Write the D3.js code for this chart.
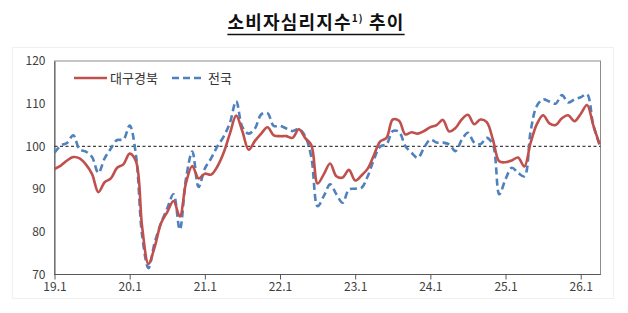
<!DOCTYPE html>
<html><head><meta charset="utf-8">
<script src="https://cdn.jsdelivr.net/npm/d3@7"></script>
<style>
html,body{margin:0;padding:0;background:#fff;}
svg{display:block;}
</style>
</head><body>
<svg id="chart" width="628" height="313"></svg>
<script>
// ---- data ----
const titleMain = "소비자심리지수";
const titleSup = "1)";
const titleTail = " 추이";
const seriesNames = ["대구경북", "전국"];
const startYear = 2019, monthCount = 88; // 2019.01 ~ 2026.04
const tickLabels = ["19.1","20.1","21.1","22.1","23.1","24.1","25.1","26.1"];
const yTicks = [70, 80, 90, 100, 110, 120];
const refLine = 100;

const daeguGyeongbuk = [
  94.7, 95.5, 96.7, 97.5, 97.2, 95.8, 93.5, 89.3, 91.6, 92.5, 95.0, 95.8,
  98.3, 96.5, 81.0, 72.5, 76.5, 82.0, 84.6, 87.2, 83.6, 91.5, 95.4, 92.5,
  93.6, 93.4, 95.3, 98.5, 103.0, 107.2, 103.5, 99.2, 101.3, 103.0, 104.5, 102.6,
  102.4, 102.4, 102.0, 104.0, 102.0, 100.3, 91.3, 93.5, 96.0, 93.0, 92.7, 94.5,
  92.0, 93.2, 94.8, 98.0, 101.2, 102.0, 106.3, 106.0, 102.8, 103.3, 103.0, 103.6,
  104.5, 105.0, 106.2, 103.5, 104.3, 106.3, 107.4, 105.2, 106.3, 105.7, 101.5, 96.5,
  96.3, 96.7, 97.4, 95.3, 100.8, 105.2, 107.3, 105.4, 105.0, 106.6, 107.3, 105.9,
  107.6, 109.7, 105.0, 100.5
];
const nationwide = [
  98.5, 100.2, 100.8, 102.6, 99.3, 98.8, 97.5, 93.8, 97.2, 99.5, 101.5, 101.6,
  104.9, 98.0, 79.0, 71.5, 77.5, 82.0, 85.5, 88.8, 80.5, 92.5, 98.8, 90.5,
  94.8, 97.2, 100.0, 102.3, 105.5, 110.6, 104.5, 103.0, 104.2, 107.5, 107.8, 104.8,
  104.8, 104.2, 103.6, 104.1, 102.4, 97.5, 86.0, 88.4, 91.1, 88.8, 86.8, 89.9,
  90.1, 90.3, 93.0, 97.0, 100.0, 100.5, 103.6, 103.4, 100.1, 98.5, 97.3, 99.7,
  101.6, 100.9, 100.9, 100.5, 98.9, 101.5, 103.2, 100.9, 100.5, 102.0, 100.3, 88.8,
  92.3, 95.0, 93.8, 93.0, 103.5, 109.5, 111.0, 110.5, 110.0, 112.0, 110.3, 111.0,
  111.5, 112.2, 105.0, 100.5
];
const seriesColors = ["#c0504d", "#4f81bd"];

// categories (month labels)
const categories = d3.range(monthCount).map(i => {
  const y = startYear + Math.floor(i / 12), m = (i % 12) + 1;
  return String(y).slice(2) + "." + m;
});

// ---- layout ----
const svg = d3.select("#chart");
const fontFam = "'Noto Sans CJK KR','Noto Sans',sans-serif";
const plot = {left: 54.5, right: 600.5, top: 61, bottom: 274.5};

// faint outer frame
svg.append("rect").attr("x", 12.5).attr("y", 47.5).attr("width", 601).attr("height", 251)
  .attr("fill", "none").attr("stroke", "#f0f0f0");

const x = d3.scaleLinear().domain([0, monthCount - 1]).range([plot.left, 599.5]);
const y = d3.scaleLinear().domain([70, 120]).range([plot.bottom, plot.top]);

// title
const title = svg.append("text").attr("x", 316).attr("y", 29)
  .attr("text-anchor", "middle").attr("font-family", fontFam)
  .attr("font-weight", "bold").attr("font-size", 18).attr("letter-spacing", 1.2)
  .attr("fill", "#111");
title.append("tspan").text(titleMain);
title.append("tspan").attr("font-size", 10).attr("dy", -7).text(titleSup);
title.append("tspan").attr("dy", 7).text(titleTail);
const tb = title.node().getBBox();
svg.append("line").attr("x1", tb.x).attr("x2", tb.x + tb.width)
  .attr("y1", 34.5).attr("y2", 34.5).attr("stroke", "#111").attr("stroke-width", 1.4);

// plot border
svg.append("rect").attr("x", plot.left).attr("y", plot.top)
  .attr("width", plot.right - plot.left).attr("height", plot.bottom - plot.top)
  .attr("fill", "none").attr("stroke", "#8c8c8c").attr("stroke-width", 1);

// y axis labels
const yAxis = d3.axisLeft(y).tickValues(yTicks).tickSize(0).tickPadding(9);
const gy = svg.append("g").attr("transform", `translate(${plot.left},0)`).call(yAxis);
gy.select(".domain").attr("stroke", "#595959");
gy.selectAll("text").attr("font-family", fontFam).attr("font-size", 12).attr("fill", "#404040");

// x axis
const tickIdx = tickLabels.map(l => categories.indexOf(l));
const xAxis = d3.axisBottom(x).tickValues(tickIdx)
  .tickFormat(i => categories[i]).tickSize(5).tickSizeOuter(0).tickPadding(3);
const gx = svg.append("g").attr("transform", `translate(0,${plot.bottom})`).call(xAxis);
gx.select(".domain").attr("stroke", "#595959").attr("d", `M${plot.left},0H${plot.right}`);
gx.selectAll(".tick line").attr("stroke", "#595959");
gx.selectAll("text").attr("font-family", fontFam).attr("font-size", 12).attr("fill", "#404040");

// reference dotted line at 100
svg.append("line").attr("x1", plot.left).attr("x2", plot.right)
  .attr("y1", y(refLine)).attr("y2", y(refLine))
  .attr("stroke", "#404040").attr("stroke-width", 1.2).attr("stroke-dasharray", "3,2.5");

// lines
const line = d3.line().x((d, i) => x(i)).y(d => y(d)).curve(d3.curveCatmullRom.alpha(0.5));
svg.append("path").datum(nationwide).attr("d", line)
  .attr("fill", "none").attr("stroke", seriesColors[1]).attr("stroke-width", 2.6)
  .attr("stroke-dasharray", "7,4");
svg.append("path").datum(daeguGyeongbuk).attr("d", line)
  .attr("fill", "none").attr("stroke", seriesColors[0]).attr("stroke-width", 2.6)
  .attr("stroke-linejoin", "round");

// legend
const legend = svg.append("g");
const legendItems = [
  {name: seriesNames[0], color: seriesColors[0], dash: null, x0: 74},
  {name: seriesNames[1], color: seriesColors[1], dash: "7,4", x0: 172}
];
legendItems.forEach(it => {
  legend.append("line").attr("x1", it.x0).attr("x2", it.x0 + 33)
    .attr("y1", 78).attr("y2", 78).attr("stroke", it.color).attr("stroke-width", 2.6)
    .attr("stroke-dasharray", it.dash);
  legend.append("text").attr("x", it.x0 + 36).attr("y", 82.5)
    .attr("font-family", fontFam).attr("font-size", 13).attr("fill", "#333").text(it.name);
});
</script>
</body></html>
